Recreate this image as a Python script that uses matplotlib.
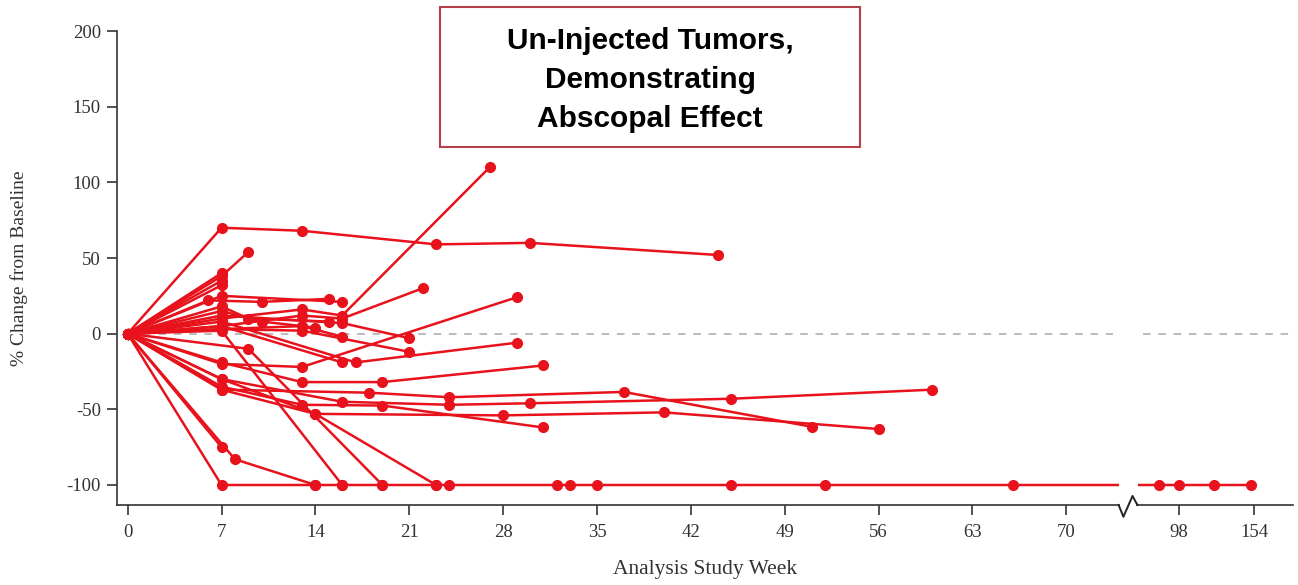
import numpy as np
import matplotlib
matplotlib.use("Agg")
import matplotlib.pyplot as plt
from matplotlib.patches import Rectangle

# ---- data: study week vs % change from baseline, one list pair per tumor ----
t01_wk = [0, 7, 13, 23, 30, 44]
t01_pc = [0, 70, 68, 59, 60, 52]
t02_wk = [0, 7, 9]
t02_pc = [0, 38, 54]
t03_wk = [0, 7]
t03_pc = [0, 40]
t04_wk = [0, 7]
t04_pc = [0, 35]
t05_wk = [0, 7]
t05_pc = [0, 32]
t06_wk = [0, 6, 10, 15]
t06_pc = [0, 22, 21, 23]
t07_wk = [0, 7, 16]
t07_pc = [0, 25, 21]
t08_wk = [0, 7, 13, 16, 27]
t08_pc = [0, 10, 16, 12, 110]
t09_wk = [0, 7, 13, 16, 22]
t09_pc = [0, 5, 12, 10, 30]
t10_wk = [0, 7, 16, 21]
t10_pc = [0, 12, 7, -3]
t11_wk = [0, 7, 13, 21]
t11_pc = [0, 3, 2, -12]
t12_wk = [0, 7, 13, 29]
t12_pc = [0, -20, -22, 24]
t13_wk = [0, 7, 17, 29]
t13_pc = [0, 8, -19, -6]
t14_wk = [0, 7, 16]
t14_pc = [0, 5, -19]
t15_wk = [0, 7, 16]
t15_pc = [0, 2, -100]
t16_wk = [0, 9, 19]
t16_pc = [0, -10, -100]
t17_wk = [0, 7, 14, 23]
t17_pc = [0, -30, -53, -100]
t18_wk = [0, 8, 14]
t18_pc = [0, -83, -100]
t19_wk = [0, 7]
t19_pc = [0, -75]
t20_wk = [0, 7, 14, 16, 19, 23, 24, 32, 33, 35, 45, 52, 66, 90, 98, 124, 152]
t20_pc = [0, -100, -100, -100, -100, -100, -100, -100, -100, -100, -100, -100,
          -100, -100, -100, -100, -100]
t21_wk = [0, 7, 13, 19, 31]
t21_pc = [0, -19, -32, -32, -21]
t22_wk = [0, 7, 18, 24, 37, 51]
t22_pc = [0, -37, -39, -42, -38.5, -61.5]
t23_wk = [0, 7, 16, 24, 30, 45, 60]
t23_pc = [0, -30, -45, -47, -46, -43, -37]
t24_wk = [0, 7, 14, 28, 40, 56]
t24_pc = [0, -37, -53, -54, -52, -63]
t25_wk = [0, 7, 13, 19, 31]
t25_pc = [0, -35, -47, -47.5, -62]
t26_wk = [0, 7, 13, 16]
t26_pc = [0, 3, 5, -2]
t27_wk = [0, 7, 10, 14]
t27_pc = [0, 15, 8, 4]
t28_wk = [0, 7, 9, 15]
t28_pc = [0, 18, 10, 8]

tumors = [(t01_wk, t01_pc), (t02_wk, t02_pc), (t03_wk, t03_pc), (t04_wk, t04_pc),
          (t05_wk, t05_pc), (t06_wk, t06_pc), (t07_wk, t07_pc), (t08_wk, t08_pc),
          (t09_wk, t09_pc), (t10_wk, t10_pc), (t11_wk, t11_pc), (t12_wk, t12_pc),
          (t13_wk, t13_pc), (t14_wk, t14_pc), (t15_wk, t15_pc), (t16_wk, t16_pc),
          (t17_wk, t17_pc), (t18_wk, t18_pc), (t19_wk, t19_pc), (t20_wk, t20_pc),
          (t21_wk, t21_pc), (t22_wk, t22_pc), (t23_wk, t23_pc), (t24_wk, t24_pc),
          (t25_wk, t25_pc), (t26_wk, t26_pc), (t27_wk, t27_pc), (t28_wk, t28_pc)]

week_ticks = [0, 7, 14, 21, 28, 35, 42, 49, 56, 63, 70, 98, 154]
pct_ticks = [-100, -50, 0, 50, 100, 150, 200]


# broken x axis: linear up to 74, then compressed
def fwd(x):
    x = np.asarray(x, dtype=float)
    return np.where(x <= 74, x,
                    np.where(x <= 98, 74 + (x - 74) * 4.4 / 24,
                             78.4 + (x - 98) * 0.1))


def inv(p):
    p = np.asarray(p, dtype=float)
    return np.where(p <= 74, p,
                    np.where(p <= 78.4, 74 + (p - 74) * 24 / 4.4,
                             98 + (p - 78.4) / 0.1))


red = "#e8121c"
serif = ["Liberation Serif", "DejaVu Serif"]

fig = plt.figure(figsize=(12.98, 5.85), dpi=100)
ax = fig.add_axes([0.0901, 0.1368, 0.906, 0.8102])
ax.set_xscale("function", functions=(fwd, inv))

# zero reference line, with a gap at the break
ax.plot([0, 73.5], [0, 0], color="#a8a8a8", lw=1.1, ls=(0, (5, 5)), zorder=1)
ax.plot([83.3, 183], [0, 0], color="#a8a8a8", lw=1.1, ls=(0, (5, 5)), zorder=1)

for wk, pc in tumors:
    ax.plot(wk, pc, color=red, lw=1.8, marker="o", ms=7, mec=red, mfc=red, zorder=3)

# blank out the break
ax.axvspan(73.9, 81.4, color="white", zorder=4, lw=0)

ax.set_xlim(-0.8, 183)
ax.set_ylim(-113.2, 200)
ax.set_xticks(week_ticks)
ax.set_xticklabels([str(w) for w in week_ticks])
ax.set_yticks(pct_ticks)
ax.set_yticklabels([str(v) for v in pct_ticks])
ax.minorticks_off()

for s in ["top", "right", "bottom"]:
    ax.spines[s].set_visible(False)
ax.spines["left"].set_color("#333333")
ax.spines["left"].set_linewidth(1.2)
ax.spines["left"].set_bounds(-113.2, 200)

# bottom axis line with zigzag break marker
tr = ax.get_xaxis_transform()
ax.plot([-0.8, 73.9], [0, 0], color="#333333", lw=1.2, transform=tr, clip_on=False, zorder=6)
ax.plot([81.1, 183], [0, 0], color="#333333", lw=1.2, transform=tr, clip_on=False, zorder=6)
ax.plot([73.9, 75.4, 79.1, 81.1], [0, -0.025, 0.019, 0], color="#222222", lw=1.4,
        transform=tr, clip_on=False, zorder=6)

ax.tick_params(axis="both", direction="out", length=7.5, width=1.2, color="#333333",
               labelsize=13.5, labelcolor="#333333")
ax.tick_params(axis="x", pad=6)
ax.tick_params(axis="y", pad=4)
for lab in ax.get_xticklabels() + ax.get_yticklabels():
    lab.set_family(serif)

ax.set_xlabel("Analysis Study Week", family=serif, fontsize=15.5, color="#333333", labelpad=14)
ax.set_ylabel("% Change from Baseline", family=serif, fontsize=14, color="#333333", labelpad=28)

# title box
fig.patches.append(Rectangle((0.339, 0.7487), 0.3236, 0.2393, transform=fig.transFigure,
                             facecolor="white", edgecolor="#b5404a", lw=1.5, zorder=10))
fig.text(0.5008, 0.8635, "Un-Injected Tumors,\nDemonstrating\nAbscopal Effect",
         ha="center", va="center", fontsize=21.5, fontweight="bold",
         family=["Liberation Sans", "DejaVu Sans"], linespacing=1.5, zorder=11)

fig.savefig("out.png", dpi=100)
